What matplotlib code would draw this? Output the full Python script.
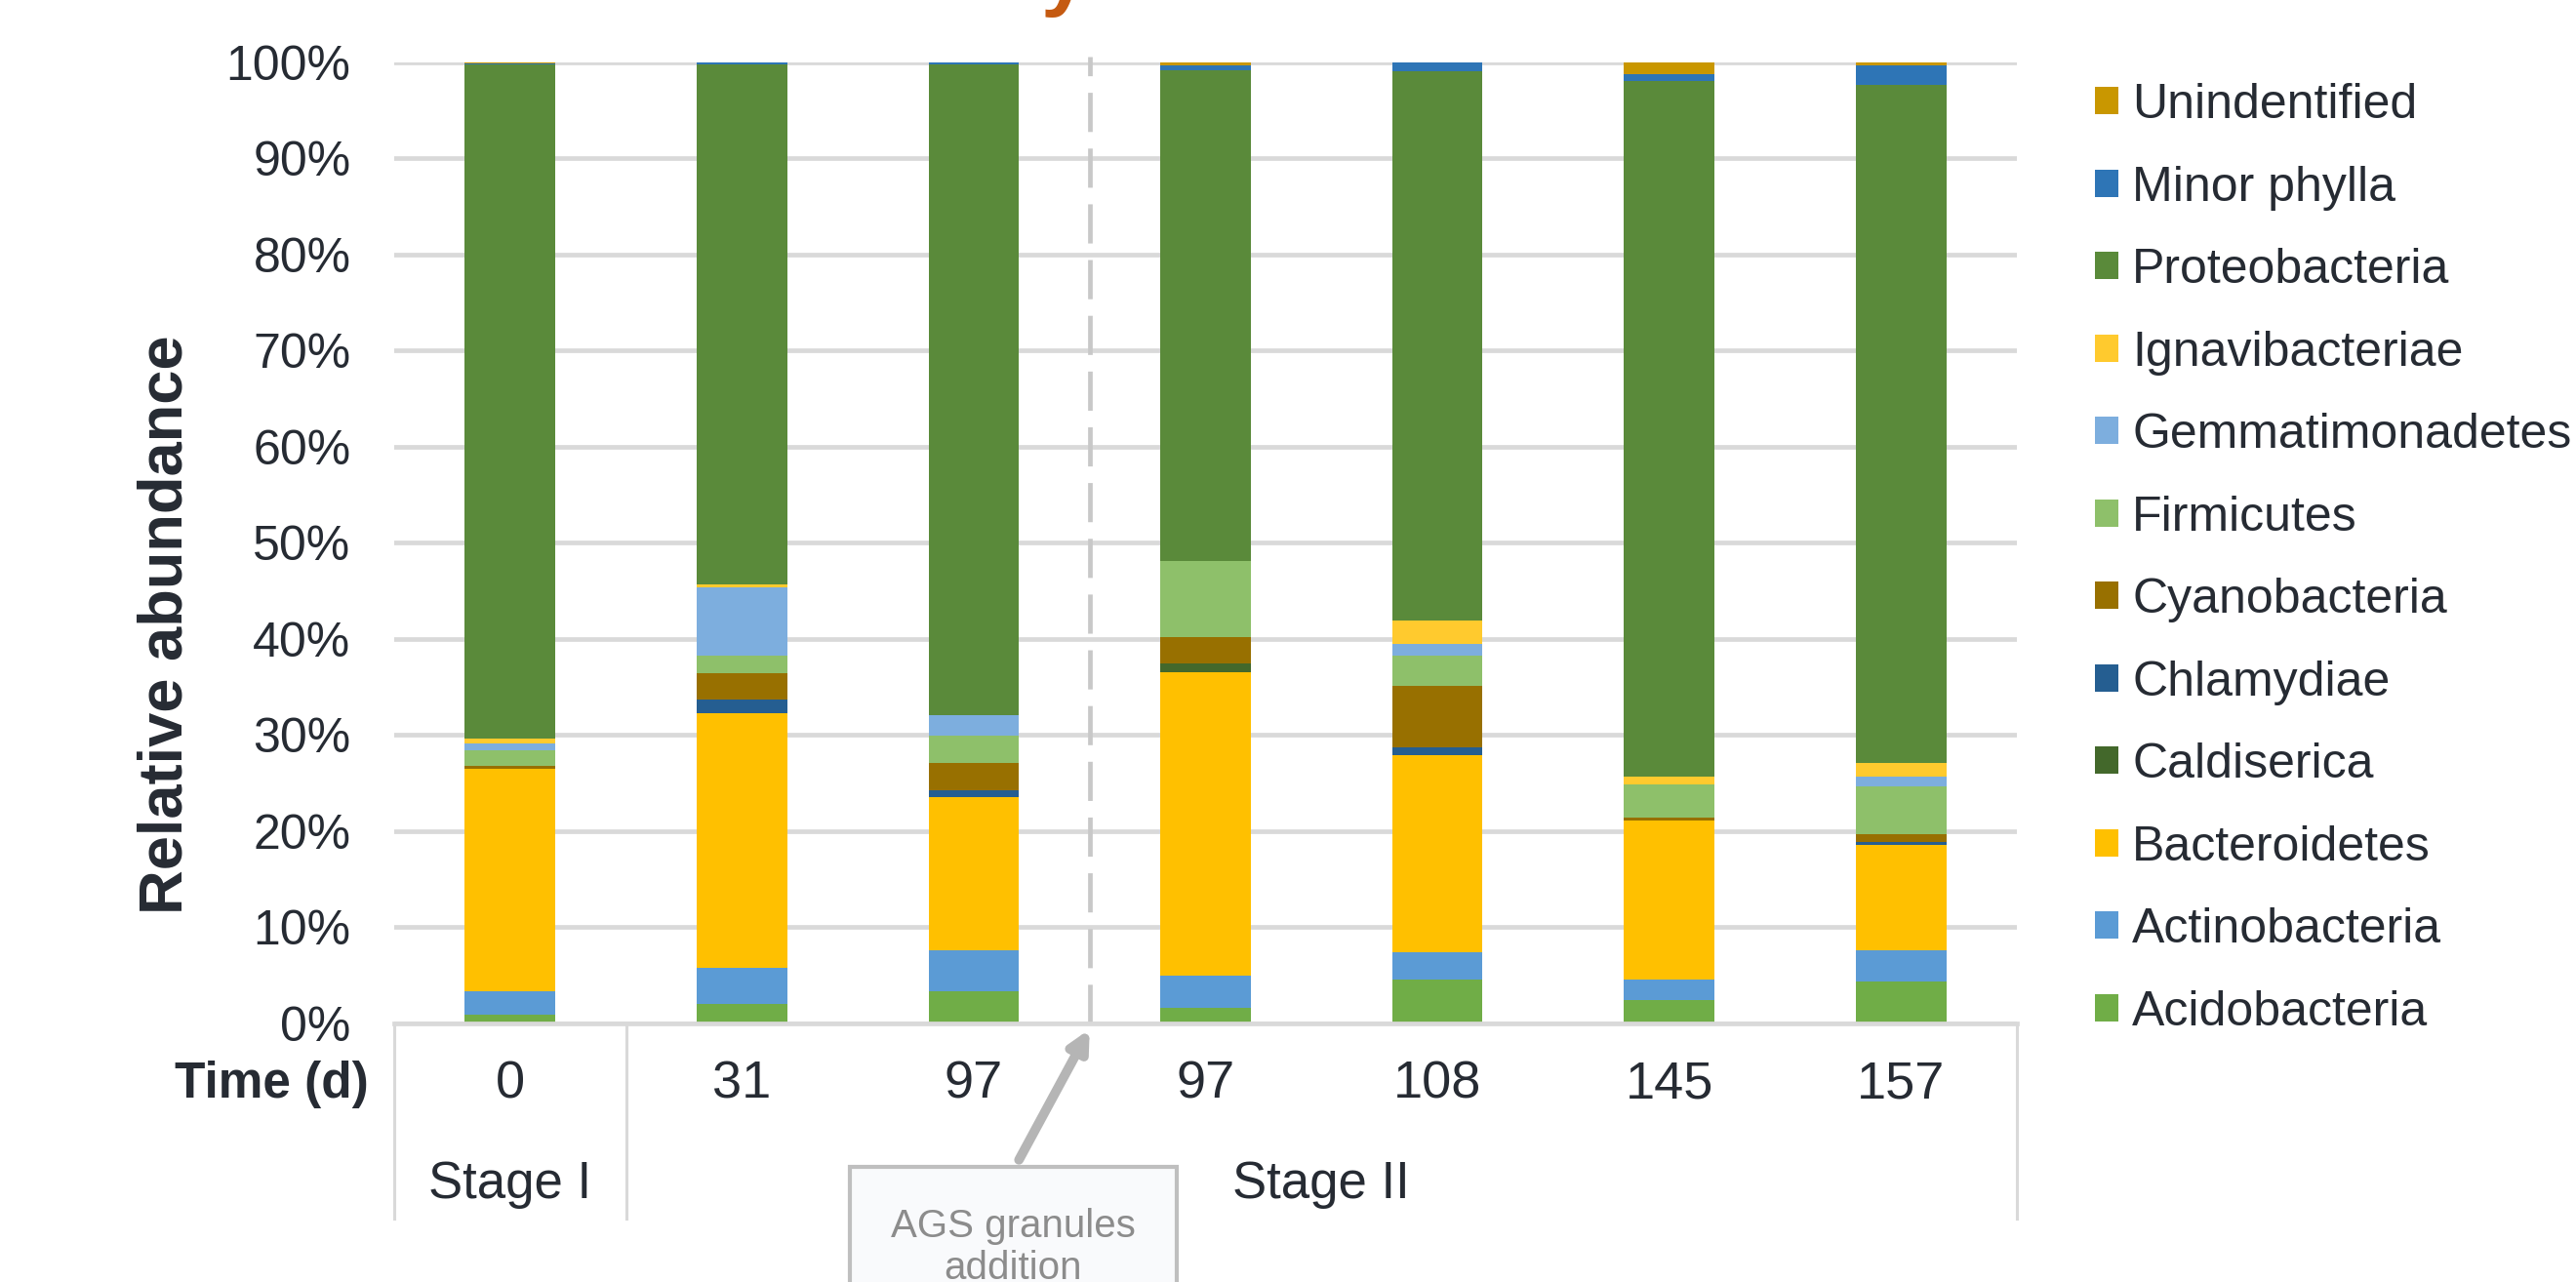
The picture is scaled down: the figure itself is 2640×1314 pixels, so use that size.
import numpy as np
import matplotlib
matplotlib.use('Agg')
import matplotlib.pyplot as plt
import matplotlib.transforms as mtransforms

plt.rcParams['font.family'] = ['Liberation Sans', 'DejaVu Sans']

# sampling days (x axis) and stages
days = ['0', '31', '97', '97', '108', '145', '157']
stages = ['Stage I', 'Stage II']

# relative abundance (%) per phylum, stacked bottom -> top
phyla = ['Acidobacteria', 'Actinobacteria', 'Bacteroidetes', 'Caldiserica', 'Chlamydiae',
         'Cyanobacteria', 'Firmicutes', 'Gemmatimonadetes', 'Ignavibacteriae',
         'Proteobacteria', 'Minor phylla', 'Unindentified']
acidobacteria = [0.9, 2.0, 3.35, 1.6, 4.6, 2.45, 4.4]
actinobacteria = [2.45, 3.8, 4.3, 3.4, 2.8, 2.15, 3.25]
bacteroidetes = [23.15, 26.5, 15.85, 31.5, 20.5, 16.5, 10.95]
caldiserica = [0.0, 0.0, 0.0, 1.0, 0.0, 0.0, 0.0]
chlamydiae = [0.0, 1.4, 0.8, 0.0, 0.8, 0.0, 0.3]
cyanobacteria = [0.3, 2.7, 2.8, 2.7, 6.4, 0.3, 0.8]
firmicutes = [1.6, 1.9, 2.8, 7.9, 3.2, 3.5, 5.0]
gemmatimonadetes = [0.7, 7.1, 2.2, 0.0, 1.2, 0.0, 1.0]
ignavibacteriae = [0.5, 0.3, 0.0, 0.0, 2.4, 0.8, 1.4]
proteobacteria = [70.15, 54.05, 67.65, 51.1, 57.2, 72.35, 70.6]
minor_phylla = [0.15, 0.25, 0.25, 0.5, 0.9, 0.75, 2.0]
unidentified = [0.1, 0.0, 0.0, 0.3, 0.0, 1.2, 0.3]

colors = ['#70AD47', '#5B9BD5', '#FFC000', '#43682B', '#255E91', '#987000',
          '#8EC06A', '#7DAEDE', '#FFCA2E', '#5A8A3A', '#2E75B6', '#C99700']

series = [acidobacteria, actinobacteria, bacteroidetes, caldiserica, chlamydiae,
          cyanobacteria, firmicutes, gemmatimonadetes, ignavibacteriae,
          proteobacteria, minor_phylla, unidentified]

txt = '#262b33'
grey = '#D9D9D9'

fig = plt.figure(figsize=(26.4, 13.14), dpi=100)
ax = fig.add_axes([0.153, 0.2017, 0.630, 0.7496])

x = np.arange(len(days))
bottom = np.zeros(len(days))
bars = []
for name, vals, col in zip(phyla, series, colors):
    v = np.array(vals) / 100.0
    b = ax.bar(x, v, 0.39, bottom=bottom, color=col, label=name, zorder=3, linewidth=0)
    bars.append(b)
    bottom += v

ax.set_xlim(-0.5, 6.5)
ax.set_ylim(0, 1.0)
ax.set_yticks(np.arange(0, 1.01, 0.1))
ax.set_yticklabels([f'{int(round(t * 100))}%' for t in np.arange(0, 1.01, 0.1)])
ax.yaxis.grid(True, color=grey, linewidth=3.4, zorder=0)
ax.set_axisbelow(True)
ax.tick_params(axis='y', length=0, pad=32, labelsize=36, labelcolor=txt)
ax.set_xticks([])
for s in ['top', 'right', 'left']:
    ax.spines[s].set_visible(False)
ax.spines['bottom'].set_color(grey)
ax.spines['bottom'].set_linewidth(3.4)
ax.spines['bottom'].set_zorder(4)

ax.set_ylabel('Relative abundance', fontsize=45.5, fontweight='bold', color=txt)
ax.yaxis.set_label_coords(-0.123, 0.415)

# category table under the axis
trans = mtransforms.blended_transform_factory(ax.transData, ax.transAxes)
for xv in [-0.5, 0.5, 6.5]:
    ax.plot([xv, xv], [0, -0.203], color=grey, lw=2.2, transform=trans, clip_on=False)
for i, d in enumerate(days):
    ax.text(i, -0.063, d, transform=trans, ha='center', va='center', fontsize=39, color=txt)
ax.text(0, -0.168, stages[0], transform=trans, ha='center', va='center', fontsize=38, color=txt)
ax.text(3.5, -0.168, stages[1], transform=trans, ha='center', va='center', fontsize=38, color=txt)
ax.text(-0.0757, -0.063, 'Time (d)', transform=ax.transAxes, ha='center', va='center',
        fontsize=37, fontweight='bold', color=txt)

# AGS addition marker
ax.plot([2.5, 2.5], [0, 1.006], color='#C8C8C8', lw=3.4, dashes=(8.5, 3.6),
        transform=trans, clip_on=False, zorder=2)
ax.annotate('', xy=(2.5, -0.006), xycoords=trans, xytext=(2.195, -0.142), textcoords=trans,
            arrowprops=dict(arrowstyle='-|>,head_length=1.2,head_width=0.6',
                            color='#B5B5B5', lw=7, shrinkA=0, shrinkB=0))
ax.text(2.17, -0.233, 'AGS granules\naddition', transform=trans, ha='center', va='center',
        fontsize=29, color='#8C8C8C', linespacing=1.15, zorder=5,
        bbox=dict(boxstyle='square,pad=1.05', fc='#F9FAFC', ec='#BFBFBF', lw=3))

# cut-off title fragment at the very top
fig.text(0.404, 1.0, 'y', fontsize=62, fontweight='bold', color='#C55A11',
         ha='left', va='baseline')

fig.legend(handles=bars[::-1], loc='upper left', bbox_to_anchor=(0.8133, 0.9353),
           frameon=False, fontsize=36, handlelength=0.48, handleheight=0.48,
           handletextpad=0.28, labelspacing=0.77, borderpad=0, borderaxespad=0,
           labelcolor=txt)

fig.savefig('out.png', dpi=100)
